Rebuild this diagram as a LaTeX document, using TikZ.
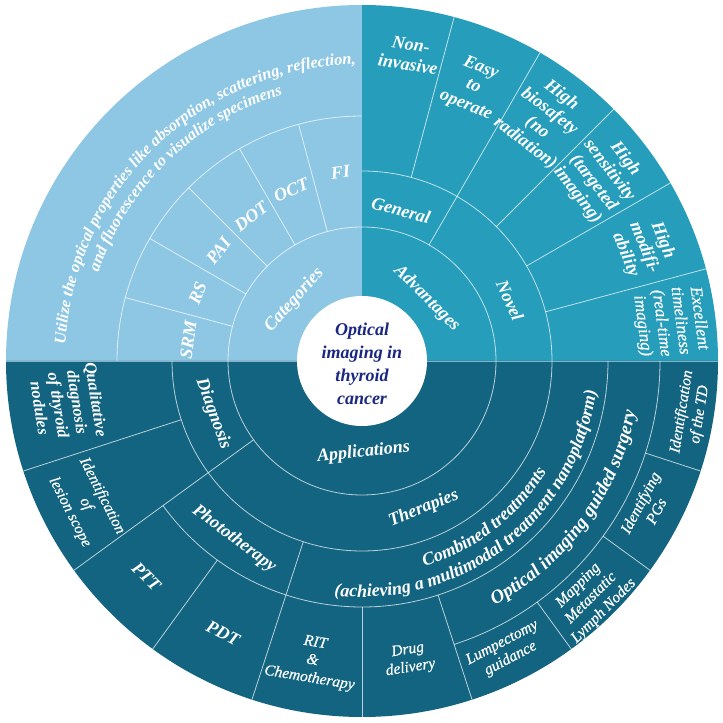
\documentclass[tikz,border=0pt]{standalone}
\usepackage{fontspec}
\setmainfont{Liberation Serif}
\newfontfamily\semiserif{Liberation Serif}[FakeBold=0.6]
\usetikzlibrary{decorations.text}
\definecolor{cUL}{HTML}{8EC7E4}
\definecolor{cUR}{HTML}{269DBA}
\definecolor{cLO}{HTML}{136480}
\definecolor{cNavy}{HTML}{1A2780}
\begin{document}
\begin{tikzpicture}[x=1pt,y=1pt,
  sep/.style={draw=white, draw opacity=0.7, line width=0.8pt},
  lbl/.style={text=white, font=\bfseries\itshape\fontsize{18}{20}\selectfont, align=center, inner sep=0pt},
  lblm/.style={text=white, font=\semiserif\itshape\fontsize{15.5}{18}\selectfont, align=center, inner sep=0pt},
  lbls/.style={text=white, font=\bfseries\itshape\fontsize{16.5}{19}\selectfont, align=center, inner sep=0pt},
]
\useasboundingbox (0,0) rectangle (723,723);
\begin{scope}[shift={(362,362)}]
% background sectors
\fill[cUL] (0,0) -- (90:356) arc[start angle=90, end angle=180, radius=356] -- cycle;
\fill[cUR] (0,0) -- (0:356) arc[start angle=0, end angle=90, radius=356] -- cycle;
\fill[cLO] (0,0) -- (180:356) arc[start angle=180, end angle=360, radius=356] -- cycle;
% border between upper and lower halves
\draw[sep, draw opacity=0.5] (180:356) -- (0:356);
% upper-left (Categories)
\draw[sep] (90:134) arc[start angle=90, end angle=180, radius=134];
\draw[sep] (90:245) arc[start angle=90, end angle=180, radius=245];
\foreach \a in {105,120,135,150,165} \draw[sep] (\a:134) -- (\a:245);
% upper-right (Advantages)
\draw[sep] (0:134) arc[start angle=0, end angle=90, radius=134];
\draw[sep] (0:190) arc[start angle=0, end angle=90, radius=190];
\draw[sep] (60:134) -- (60:356);
\foreach \a in {15,30,45,75} \draw[sep] (\a:190) -- (\a:356);
% lower (Applications)
\draw[sep] (180:134) arc[start angle=180, end angle=360, radius=134];
\draw[sep] (180:190) arc[start angle=180, end angle=360, radius=190];
\draw[sep] (216:246) arc[start angle=216, end angle=360, radius=246];
\draw[sep] (288:298) arc[start angle=288, end angle=360, radius=298];
\draw[sep] (216:134) -- (216:356);
\draw[sep] (198:190) -- (198:356);
\draw[sep] (252:190) -- (252:356);
\foreach \a in {234,270,288} \draw[sep] (\a:246) -- (\a:356);
\foreach \a in {306,324,342} \draw[sep] (\a:298) -- (\a:356);
% centre
\fill[white] (0,0) circle[radius=65];
\node[text=cNavy, font=\bfseries\itshape\fontsize{18}{23}\selectfont, align=center, inner sep=0pt] (title) at (0,-3) {Optical\\imaging in\\thyroid\\cancer};
% upper-right labels
\node[lbl, rotate=-45] (adv) at (44:90) {Advantages};
\node[lbl, rotate=-15] (gen) at (75.5:156) {General};
\node[lbl, rotate=-66] (nov) at (22.3:160) {Novel};
\node[lbl, rotate=-9] (lNI) at (81.2:310) {Non-\\invasive};
\node[lbl, rotate=-22] (lEO) at (67.9:296) {Easy\\to\\operate};
\node[lbl, rotate=-37] (lHB) at (53.1:302) {High\\biosafety\\(no\\radiation)};
\node[lbl, rotate=-52.5] (lHS) at (37.6:302) {High\\sensitivity\\(targeted\\imaging)};
\node[lbl, rotate=-68] (lHM) at (21.9:304) {High\\modifi-\\ability};
\node[lblm, font=\semiserif\itshape\fontsize{17}{19}\selectfont, rotate=-82.5] (lET) at (7.2:311) {Excellent\\timeliness\\(real-time\\imaging)};
% upper-left labels
\node[lbl, rotate=48] (cat) at (138:91) {Categories};
\node[lbl, rotate=6.5] (cFI) at (96.5:190) {FI};
\node[lbl, rotate=22.5] (cOCT) at (112.5:185) {OCT};
\node[lbl, rotate=37.5] (cDOT) at (127.5:182) {DOT};
\node[lbl, rotate=52.5] (cPAI) at (142.5:181) {PAI};
\node[lbl, rotate=67.5] (cRS) at (157.5:178) {RS};
\node[lbl, rotate=82.5] (cSRM) at (173:175) {SRM};
\path[decorate, decoration={text along path, text align=center, text color=white,
  text={|\bfseries\itshape\fontsize{16.3}{18}\selectfont|Utilize the optical properties like absorption, scattering, reflection,}}]
  (180:297) arc[start angle=180, end angle=88, radius=297];
\path[decorate, decoration={text along path, text align=center, text color=white,
  text={|\bfseries\itshape\fontsize{16.3}{18}\selectfont|and fluorescence to visualize specimens}}]
  (180:278) arc[start angle=180, end angle=88, radius=278];
% lower labels
\node[lbl, rotate=6] (app) at (271:91.5) {Applications};
\node[lbl, rotate=-70] (diag) at (199.6:158) {Diagnosis};
\node[lbl, rotate=22.7] (ther) at (292.7:160) {Therapies};
\node[lbl, rotate=-37] (photo) at (234.3:219) {Phototherapy};
\node[lbls, rotate=-81] (dQD) at (188.3:297) {Qualitative\\diagnosis\\of thyroid\\nodules};
\node[lblm, rotate=-63] (dIL) at (207.4:311) {Identification\\of\\lesion scope};
\node[lbl, rotate=-45] (pPTT) at (225:305) {PTT};
\node[lbl, rotate=-27] (pPDT) at (243:306) {PDT};
\node[lblm, rotate=-9.5] (cRIT) at (260.6:304) {RIT\\\&\\Chemotherapy};
\node[lblm, rotate=9] (cDD) at (279:302) {Drug\\delivery};
\node[lblm, rotate=28] (sLG) at (296.5:324) {Lumpectomy\\guidance};
\node[lblm, rotate=45] (sMM) at (314:330) {Mapping\\Metastatic\\Lymph Nodes};
\node[lblm, rotate=62] (sPG) at (333:321) {Identifying\\PGs};
\node[lblm, rotate=81] (sTD) at (351:333) {Identification\\of the TD};
\path[decorate, decoration={text along path, text align=center, text color=white,
  text={|\bfseries\itshape\fontsize{18}{20}\selectfont|Combined treatments}}]
  (248:215) arc[start angle=248, end angle=368, radius=215];
\path[decorate, decoration={text along path, text align=center, text color=white,
  text={|\bfseries\itshape\fontsize{18}{20}\selectfont|(achieving a multimodal treatment nanoplatform)}}]
  (238:236) arc[start angle=238, end angle=378, radius=236];
\path[decorate, decoration={text along path, text align=center, text color=white,
  text={|\bfseries\itshape\fontsize{19}{21}\selectfont|Optical imaging guided surgery}}]
  (279:278) arc[start angle=279, end angle=369, radius=278];
\end{scope}
\end{tikzpicture}
\end{document}
